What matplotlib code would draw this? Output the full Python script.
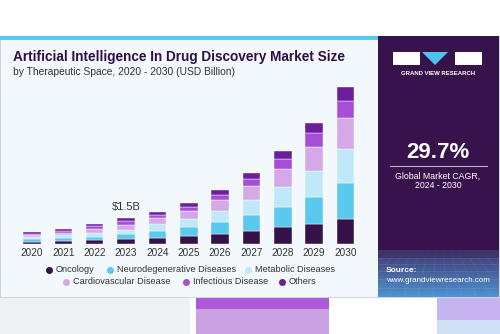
import numpy as np
import matplotlib
matplotlib.use("Agg")
import matplotlib.pyplot as plt
from matplotlib.patches import Rectangle, Polygon

plt.rcParams['font.family'] = ['Liberation Sans', 'DejaVu Sans']

years = ['2020', '2021', '2022', '2023', '2024', '2025', '2026', '2027', '2028', '2029', '2030']
segments = ['Oncology', 'Neurodegenerative Diseases', 'Metabolic Diseases',
            'Cardiovascular Disease', 'Infectious Disease', 'Others']
oncology = [0.16, 0.19, 0.24, 0.31, 0.39, 0.48, 0.62, 0.78, 1.00, 1.17, 1.46]
neuro = [0.13, 0.16, 0.21, 0.27, 0.40, 0.52, 0.67, 0.89, 1.15, 1.58, 2.06]
metabolic = [0.12, 0.16, 0.21, 0.27, 0.40, 0.46, 0.62, 0.88, 1.15, 1.50, 1.98]
cardio = [0.12, 0.16, 0.21, 0.27, 0.35, 0.46, 0.62, 0.81, 1.04, 1.38, 1.81]
infectious = [0.09, 0.12, 0.16, 0.20, 0.17, 0.25, 0.31, 0.40, 0.56, 0.77, 0.96]
others = [0.08, 0.11, 0.14, 0.18, 0.15, 0.19, 0.29, 0.36, 0.48, 0.58, 0.83]
colors = ['#35124a', '#5bc8f0', '#bfe8f8', '#d5a8e8', '#a64fd6', '#6a1f9c']

W, H = 500, 334
fig = plt.figure(figsize=(5, 3.34), dpi=100)
fig.patch.set_facecolor('white')

# background layer in pixel coordinates
bg = fig.add_axes([0, 0, 1, 1])
bg.set_xlim(0, W)
bg.set_ylim(H, 0)
bg.axis('off')

# blurry page bits below the card
bg.add_patch(Rectangle((0, 297), 190, 37, color='#eef0f3', lw=0))
bg.add_patch(Rectangle((196, 297), 133, 37, color='#c9a0e2', lw=0))
bg.add_patch(Rectangle((196, 297), 133, 12, color='#ad58d9', lw=0))
bg.add_patch(Rectangle((437, 297), 63, 37, color='#c6b4f0', lw=0))
bg.add_patch(Rectangle((437, 320), 63, 14, color='#cfe0f4', lw=0))

# card
bg.add_patch(Rectangle((0, 36), 499, 261, facecolor='#f3f8fc', edgecolor='#cfd6dc', lw=0.8))
bg.add_patch(Rectangle((0, 36), 378, 4, color='#5bc8f0', lw=0))

# right panel with gradient at bottom
grad = np.linspace(0, 1, 200)[:, None]
top_c = np.array([0x38, 0x13, 0x4b]) / 255
bot_c = np.array([0x4e, 0x93, 0xd0]) / 255
t = np.clip((grad - 0.72) / 0.28, 0, 1) ** 1.2
img = top_c * (1 - t[..., None]) + bot_c * t[..., None]
img = np.repeat(img, 2, axis=1)
bg.imshow(img, extent=(378, 499, 297, 36), aspect='auto', zorder=2)
for yy in [258, 264, 271, 279, 288]:
    bg.plot([378, 499], [yy, yy], color='white', alpha=0.10, lw=0.5, zorder=3)
for xx in np.linspace(330, 550, 16):
    bg.plot([438, xx], [200, 297], color='white', alpha=0.07, lw=0.5, zorder=3,
            clip_on=True, clip_box=None)
bg.add_patch(Rectangle((378, 36), 121, 214, color='#38134b', lw=0, zorder=3))
bg.add_patch(Rectangle((378, 250), 121, 8, color='#3f2a63', lw=0, zorder=3, alpha=0.6))

# logo
bg.add_patch(Rectangle((393, 52), 27, 13, color='white', lw=0, zorder=4))
bg.add_patch(Polygon([(422, 52), (448, 52), (435, 65)], color='#4fc3f0', lw=0, zorder=4))
bg.add_patch(Rectangle((455, 52), 27, 13, color='white', lw=0, zorder=4))
bg.text(438, 73.5, 'GRAND VIEW RESEARCH', color='white', fontsize=4.3, fontweight='bold',
        ha='center', va='center', zorder=5)

bg.text(438, 153, '29.7%', color='white', fontsize=16, fontweight='bold',
        ha='center', va='center', zorder=5)
bg.plot([390, 487], [166, 166], color='#b9a9c9', lw=0.8, zorder=5)
bg.text(438, 176, 'Global Market CAGR,', color='white', fontsize=6.3,
        ha='center', va='center', zorder=5)
bg.text(438, 186, '2024 - 2030', color='white', fontsize=6.3,
        ha='center', va='center', zorder=5)
bg.text(386, 270, 'Source:', color='white', fontsize=6, fontweight='bold',
        ha='left', va='center', zorder=5)
bg.text(386, 280, 'www.grandviewresearch.com', color='white', fontsize=5.8,
        ha='left', va='center', zorder=5)

# titles
bg.text(13, 57, 'Artificial Intelligence In Drug Discovery Market Size', color='#2e0f47',
        fontsize=9.85, fontweight='bold', ha='left', va='center')
bg.text(13, 72, 'by Therapeutic Space, 2020 - 2030 (USD Billion)', color='#333333',
        fontsize=7.4, ha='left', va='center')

# legend drawn by hand (two centred rows)
rows = [[0, 1, 2], [3, 4, 5]]
row_y = [270, 282]
row_x = [[49, 110, 248], [66, 186, 282]]
for r, idxs in enumerate(rows):
    for k, i in enumerate(idxs):
        bg.scatter([row_x[r][k]], [row_y[r]], s=16, color=colors[i], zorder=5)
        bg.text(row_x[r][k] + 7, row_y[r], segments[i], fontsize=6.6, color='#333333',
                ha='left', va='center')

# chart
base_px, top_px = 244.3, 80
px_per_b = 26 / 1.5
ax = fig.add_axes([10 / W, (H - base_px) / H, 358 / W, (base_px - top_px) / H])
ax.patch.set_alpha(0)
x = np.arange(len(years))
ax.set_xlim((10 - 32) / 31.35, (368 - 32) / 31.35)
ax.set_ylim(0, (base_px - top_px) / px_per_b)

series = [oncology, neuro, metabolic, cardio, infectious, others]
bottom = np.zeros(len(years))
for vals, c, name in zip(series, colors, segments):
    ax.bar(x, vals, 0.56, bottom=bottom, color=c, edgecolor='white', linewidth=0.3, label=name)
    bottom += np.array(vals)

ax.text(3, bottom[3] + 0.35, '$1.5B', ha='center', va='bottom', fontsize=8, color='#333333')

ax.set_xticks(x)
ax.set_xticklabels(years, fontsize=7.2, color='#333333')
ax.tick_params(axis='x', length=0, pad=3)
ax.set_yticks([])
for s in ax.spines.values():
    s.set_visible(False)

fig.savefig('out.png', dpi=100)
